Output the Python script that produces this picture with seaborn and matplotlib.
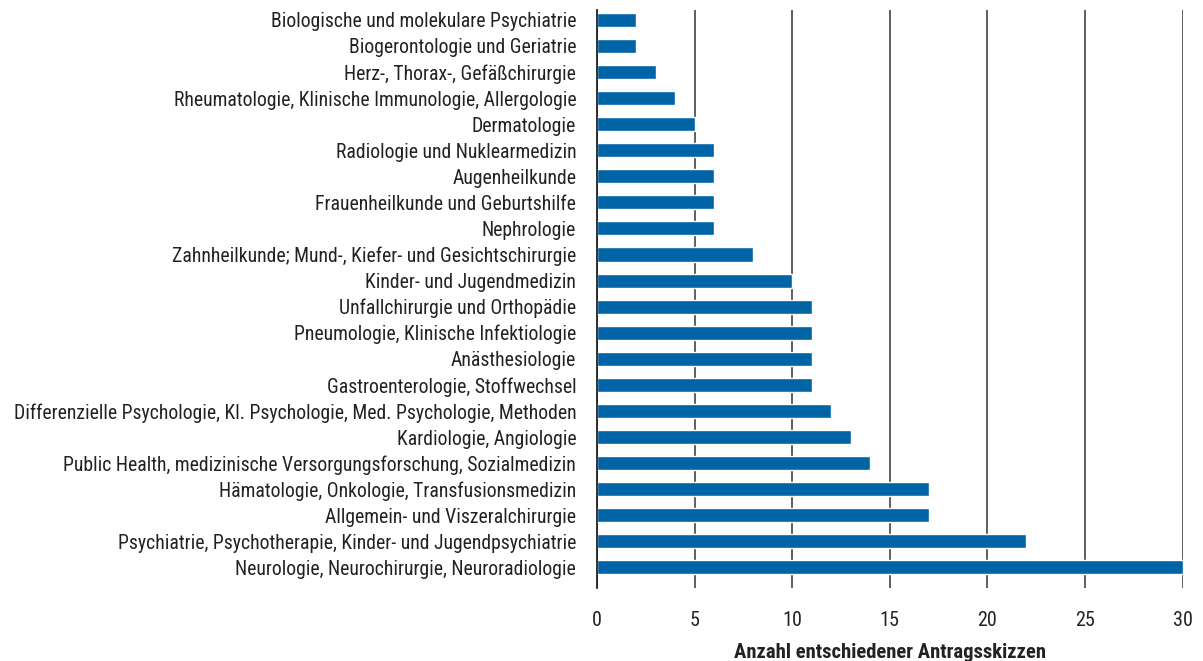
import matplotlib
matplotlib.use("Agg")
import matplotlib.pyplot as plt
import seaborn as sns
import pandas as pd

categories = [
    "Biologische und molekulare Psychiatrie",
    "Biogerontologie und Geriatrie",
    "Herz-, Thorax-, Gefäßchirurgie",
    "Rheumatologie, Klinische Immunologie, Allergologie",
    "Dermatologie",
    "Radiologie und Nuklearmedizin",
    "Augenheilkunde",
    "Frauenheilkunde und Geburtshilfe",
    "Nephrologie",
    "Zahnheilkunde; Mund-, Kiefer- und Gesichtschirurgie",
    "Kinder- und Jugendmedizin",
    "Unfallchirurgie und Orthopädie",
    "Pneumologie, Klinische Infektiologie",
    "Anästhesiologie",
    "Gastroenterologie, Stoffwechsel",
    "Differenzielle Psychologie, Kl. Psychologie, Med. Psychologie, Methoden",
    "Kardiologie, Angiologie",
    "Public Health, medizinische Versorgungsforschung, Sozialmedizin",
    "Hämatologie, Onkologie, Transfusionsmedizin",
    "Allgemein- und Viszeralchirurgie",
    "Psychiatrie, Psychotherapie, Kinder- und Jugendpsychiatrie",
    "Neurologie, Neurochirurgie, Neuroradiologie",
]
counts = [2, 2, 3, 4, 5, 6, 6, 6, 6, 8, 10, 11, 11, 11, 11, 12, 13, 14, 17, 17, 22, 30]

xticks = [0, 5, 10, 15, 20, 25, 30]
xlabel = "Anzahl entschiedener Antragsskizzen"

sns.set_theme(style="white")
plt.rcParams["font.family"] = ["Roboto Condensed", "Liberation Sans Narrow",
                               "Liberation Sans", "DejaVu Sans"]

data = pd.DataFrame({"Fach": categories, "Anzahl": counts})

fig = plt.figure(figsize=(12.03, 6.61), dpi=100)
ax = fig.add_axes([0.4963, 0.110, 0.4867, 0.875])

sns.barplot(data=data, y="Fach", x="Anzahl", orient="h", color="#0064a7",
            saturation=1, width=0.54, ax=ax)

ax.set_xlim(0, 30)
ax.set_ylim(21.8, -0.38)
ax.set_xticks(xticks)
ax.xaxis.grid(True, color="#333333", linewidth=1.1)
ax.set_axisbelow(True)
for s in ["top", "right", "bottom"]:
    ax.spines[s].set_visible(False)
ax.spines["left"].set_color("#222222")
ax.spines["left"].set_linewidth(1.3)
ax.tick_params(axis="y", length=0, labelsize=14.2, colors="#222222", pad=15)
ax.tick_params(axis="x", length=0, labelsize=14.5, colors="#222222", pad=16)
ax.set_ylabel("")
ax.set_xlabel(xlabel, fontsize=14.9, fontweight="bold", color="#222222")
ax.xaxis.set_label_coords(0.5, -0.095)

plt.savefig("out.png", dpi=100)
